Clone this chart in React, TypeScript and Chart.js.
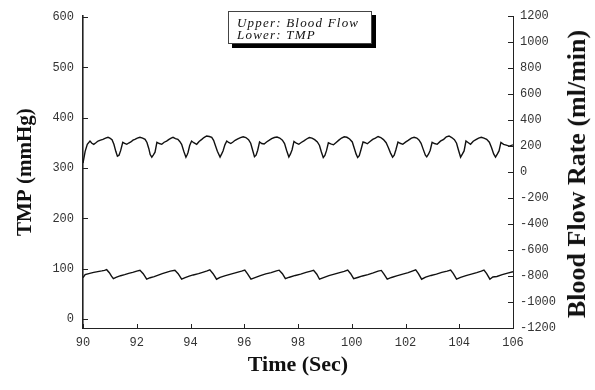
import React, { useEffect, useRef } from "react";
import { Chart, registerables } from "chart.js";

Chart.register(...registerables);

// Upper trace: blood flow rate (ml/min), right axis
const flowTime = [
  90.0, 90.08, 90.16, 90.26, 90.33, 90.4, 90.48, 90.56, 90.65, 90.74, 90.84, 90.93, 91.0, 91.08, 91.15, 91.22,
  91.28, 91.34, 91.4, 91.48, 91.55, 91.63, 91.7, 91.78, 91.86, 91.93, 92.02, 92.12, 92.22, 92.31, 92.38, 92.45,
  92.5, 92.56, 92.62, 92.68, 92.75, 92.84, 92.93, 93.02, 93.11, 93.2, 93.28, 93.35, 93.44, 93.53, 93.6, 93.67,
  93.75, 93.83, 93.88, 93.91, 93.97, 94.04, 94.12, 94.23, 94.32, 94.42, 94.5, 94.6, 94.7, 94.79, 94.86, 94.91,
  95.0, 95.1, 95.16, 95.21, 95.28, 95.35, 95.42, 95.5, 95.58, 95.66, 95.76, 95.86, 95.96, 96.06, 96.16, 96.24,
  96.31, 96.38, 96.44, 96.5, 96.57, 96.65, 96.74, 96.83, 96.92, 97.02, 97.12, 97.22, 97.32, 97.42, 97.5, 97.58,
  97.66, 97.72, 97.78, 97.85, 97.94, 98.03, 98.12, 98.22, 98.32, 98.42, 98.52, 98.62, 98.72, 98.8, 98.87, 98.94,
  99.0, 99.06, 99.13, 99.22, 99.32, 99.42, 99.52, 99.62, 99.72, 99.82, 99.92, 100.02, 100.1, 100.16, 100.22, 100.28,
  100.34, 100.42, 100.5, 100.58, 100.68, 100.78, 100.88, 100.98, 101.08, 101.18, 101.28, 101.36, 101.44, 101.52, 101.58, 101.64,
  101.72, 101.8, 101.9, 102.0, 102.1, 102.22, 102.32, 102.42, 102.5, 102.58, 102.66, 102.74, 102.79, 102.86, 102.92, 102.99,
  103.08, 103.18, 103.3, 103.42, 103.52, 103.62, 103.72, 103.82, 103.9, 103.97, 104.05, 104.12, 104.18, 104.25, 104.34, 104.42,
  104.52, 104.62, 104.72, 104.82, 104.92, 105.02, 105.12, 105.2, 105.28, 105.35, 105.42, 105.48, 105.55, 105.65, 105.75, 105.86,
  106.0,
];
const flowRate = [
  70, 160, 214, 239, 222, 214, 226, 239, 246, 252, 262, 268, 262, 250, 214, 160,
  122, 130, 165, 229, 222, 214, 224, 232, 246, 252, 262, 268, 262, 252, 228, 180,
  135, 115, 132, 153, 229, 220, 214, 230, 239, 252, 262, 268, 258, 252, 236, 214,
  160, 115, 135, 153, 205, 239, 226, 214, 236, 252, 266, 278, 274, 268, 245, 214,
  160, 115, 140, 163, 210, 239, 228, 220, 232, 245, 256, 266, 272, 266, 250, 222,
  170, 118, 130, 168, 232, 220, 216, 232, 244, 258, 266, 270, 262, 246, 220, 165,
  116, 140, 172, 236, 222, 214, 228, 240, 255, 266, 262, 250, 232, 205, 155, 112,
  128, 165, 226, 218, 210, 228, 246, 262, 272, 268, 255, 232, 180, 140, 113, 126,
  170, 232, 226, 218, 236, 252, 262, 274, 266, 250, 226, 190, 148, 115, 130, 170,
  232, 222, 214, 231, 244, 262, 268, 262, 248, 222, 175, 130, 117, 140, 168, 229,
  220, 214, 238, 252, 272, 278, 266, 250, 222, 170, 115, 140, 163, 239, 226, 214,
  238, 250, 262, 268, 262, 252, 230, 190, 140, 115, 140, 163, 229, 214, 208, 200,
  210,
];

// Lower trace: TMP (mmHg), left axis
const tmpTime = [
  90.0, 90.08, 90.25, 90.4, 90.55, 90.7, 90.8, 90.88, 90.98, 91.06, 91.13, 91.25, 91.4, 91.55, 91.7, 91.85,
  92.0, 92.12, 92.24, 92.37, 92.5, 92.65, 92.8, 92.95, 93.1, 93.25, 93.42, 93.54, 93.67, 93.8, 93.95, 94.1,
  94.3, 94.45, 94.62, 94.72, 94.84, 94.97, 95.1, 95.3, 95.5, 95.7, 95.9, 96.02, 96.13, 96.25, 96.4, 96.6,
  96.8, 97.0, 97.2, 97.3, 97.42, 97.53, 97.68, 97.9, 98.1, 98.3, 98.48, 98.58, 98.7, 98.8, 98.95, 99.15,
  99.35, 99.55, 99.72, 99.85, 99.96, 100.07, 100.22, 100.4, 100.6, 100.8, 100.98, 101.1, 101.2, 101.32, 101.48, 101.7,
  101.9, 102.1, 102.25, 102.38, 102.48, 102.6, 102.75, 102.95, 103.15, 103.35, 103.55, 103.68, 103.78, 103.9, 104.05, 104.25,
  104.45, 104.65, 104.82, 104.92, 105.02, 105.14, 105.25, 105.4, 105.6, 105.8, 106.0,
];
const tmpValue = [
  82, 88, 90.5, 92.5, 94, 95.5, 96.7, 98, 92, 85, 80, 83, 86, 88, 90.5, 92.5,
  95, 96.7, 90, 79, 82, 84, 87, 90, 92.5, 95, 96.7, 90, 79, 82, 85, 87.5,
  90, 92.5, 95.5, 97.5, 90, 79, 82.5, 86, 89, 92, 95, 97, 89, 79, 82, 86,
  89.5, 92, 95.5, 97, 90, 80, 83, 86.5, 89, 92.5, 95, 96.5, 89, 79, 82, 86,
  89, 92, 94.5, 97, 90, 80, 82.5, 85.5, 88, 91.5, 95, 96.5, 89, 79, 82.5, 86,
  89, 92, 95, 97.5, 90, 79, 83, 86.5, 89, 92.5, 95, 97, 90, 79, 82.5, 86,
  89, 92, 95, 97, 90, 79, 83.5, 84.5, 88, 91, 94,
];

const inwardTicks = {
  id: "inwardTicks",
  afterDraw(chart: any) {
    const ctx = chart.ctx;
    const { left, right, bottom } = chart.chartArea;
    ctx.save();
    ctx.strokeStyle = "#222";
    ctx.lineWidth = 1;
    const xs = chart.scales.x;
    xs.ticks.forEach((t: any) => {
      const px = Math.round(xs.getPixelForValue(t.value)) + 0.5;
      ctx.beginPath();
      ctx.moveTo(px, bottom);
      ctx.lineTo(px, bottom - 4);
      ctx.stroke();
    });
    const ys = chart.scales.y;
    ys.ticks.forEach((t: any) => {
      const py = Math.round(ys.getPixelForValue(t.value)) + 0.5;
      ctx.beginPath();
      ctx.moveTo(left, py);
      ctx.lineTo(left + 5, py);
      ctx.stroke();
    });
    const ys1 = chart.scales.y1;
    ys1.ticks.forEach((t: any) => {
      const py = Math.round(ys1.getPixelForValue(t.value)) + 0.5;
      ctx.beginPath();
      ctx.moveTo(right, py);
      ctx.lineTo(right - 5, py);
      ctx.stroke();
    });
    ctx.restore();
  },
};

const plain = (v: any) => String(v);

export default function App() {
  const canvasRef = useRef<HTMLCanvasElement | null>(null);

  useEffect(() => {
    const canvas = canvasRef.current;
    if (!canvas) return;
    const tickFont = { family: "'Liberation Mono', monospace", size: 12 };
    const chart = new Chart(canvas, {
      type: "line",
      data: {
        datasets: [
          {
            label: "Blood Flow",
            data: flowTime.map((t, i) => ({ x: t, y: flowRate[i] })),
            yAxisID: "y1",
            borderColor: "#111",
            borderWidth: 1.4,
            pointRadius: 0,
            tension: 0,
            fill: false,
          },
          {
            label: "TMP",
            data: tmpTime.map((t, i) => ({ x: t, y: tmpValue[i] })),
            yAxisID: "y",
            borderColor: "#111",
            borderWidth: 1.4,
            pointRadius: 0,
            tension: 0,
            fill: false,
          },
        ],
      },
      options: {
        responsive: false,
        animation: false,
        events: [],
        layout: { padding: { top: 14, left: 0, right: 0, bottom: 0 } },
        plugins: { legend: { display: false }, tooltip: { enabled: false } },
        scales: {
          x: {
            type: "linear",
            min: 90,
            max: 106,
            grid: { display: false, drawTicks: false },
            border: { display: true, color: "#222", width: 1 },
            ticks: { stepSize: 2, color: "#333", font: tickFont, padding: 8, maxRotation: 0, callback: plain },
            title: {
              display: true,
              text: "Time (Sec)",
              color: "#111",
              font: { family: "'Liberation Serif', serif", size: 22, weight: "bold" },
              padding: { top: 0, bottom: 11 },
            },
            afterFit: (s: any) => {
              s.height = 62;
            },
          },
          y: {
            type: "linear",
            position: "left",
            min: -18,
            max: 602,
            grid: { display: false, drawTicks: false },
            border: { display: true, color: "#222", width: 1.6 },
            ticks: { stepSize: 100, includeBounds: false, color: "#333", font: tickFont, padding: 9, callback: plain },
            title: {
              display: true,
              text: "TMP (mmHg)",
              color: "#111",
              font: { family: "'Liberation Serif', serif", size: 21, weight: "bold" },
              padding: { top: 13, bottom: 0 },
            },
            afterFit: (s: any) => {
              s.width = 83;
            },
          },
          y1: {
            type: "linear",
            position: "right",
            min: -1200,
            max: 1200,
            grid: { display: false, drawTicks: false },
            border: { display: true, color: "#222", width: 1 },
            ticks: { stepSize: 200, includeBounds: false, color: "#333", font: tickFont, padding: 7, callback: plain },
            afterFit: (s: any) => {
              s.width = 82;
            },
          },
        },
      },
      plugins: [inwardTicks],
    });
    return () => chart.destroy();
  }, []);

  return (
    <div
      style={{
        position: "fixed",
        left: 0,
        top: 0,
        width: 595,
        height: 390,
        background: "#fff",
        overflow: "hidden",
      }}
    >
      <canvas ref={canvasRef} width={595} height={390} style={{ display: "block" }} />
      <div
        style={{
          position: "absolute",
          left: 228,
          top: 11,
          width: 144,
          height: 33,
          boxSizing: "border-box",
          border: "1px solid #444",
          background: "#fff",
          boxShadow: "4px 4px 0 #000",
          fontFamily: "'Liberation Serif', serif",
          fontStyle: "italic",
          fontSize: 13,
          letterSpacing: 1.2,
          lineHeight: "12px",
          color: "#111",
          padding: "5px 0 0 8px",
          whiteSpace: "nowrap",
        }}
      >
        <div>Upper: Blood Flow</div>
        <div>Lower: TMP</div>
      </div>
      <div
        style={{
          position: "absolute",
          left: 577,
          top: 174,
          transform: "translate(-50%, -50%) rotate(-90deg)",
          fontFamily: "'Liberation Serif', serif",
          fontWeight: "bold",
          fontSize: 26,
          color: "#111",
          whiteSpace: "nowrap",
          lineHeight: 1,
        }}
      >
        Blood Flow Rate (ml/min)
      </div>
    </div>
  );
}
